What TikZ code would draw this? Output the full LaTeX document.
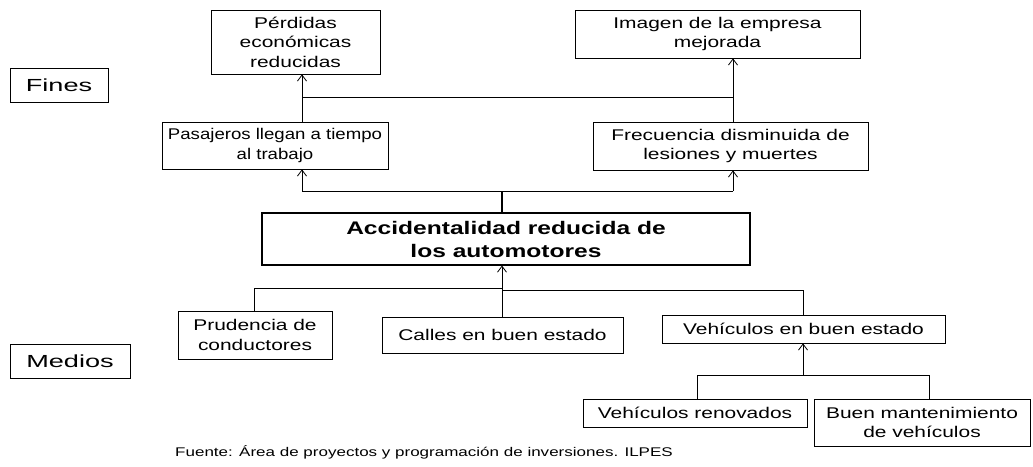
\documentclass[tikz,border=0pt]{standalone}
\usepackage{fontspec}
\setmainfont{Liberation Sans}[FakeStretch=1.35]
\newfontfamily\widefont{Liberation Sans}[FakeStretch=1.55]
\newfontfamily\narrowfont{Liberation Sans}[FakeStretch=1.2]
\usetikzlibrary{arrows.meta}
\begin{document}
\begin{tikzpicture}[x=1pt,y=-1pt,
  box/.style={draw, line width=0.8pt, align=center, inner sep=0pt, font=\fontsize{15.5}{19.5}\selectfont},
  lbl/.style={draw, line width=0.8pt, align=center, inner sep=0pt, font=\widefont\fontsize{17.5}{20}\selectfont},
  link/.style={line width=0.8pt},
  arr/.style={line width=0.8pt, -{Straight Barb[length=6pt,width=9pt]}}]
\useasboundingbox (0,0) rectangle (1033,466);
% Fines / Medios
\node[lbl, minimum width=98pt, minimum height=34pt] (fines) at (59,85) {Fines};
\node[lbl, minimum width=120pt, minimum height=34pt] (medios) at (70,361) {Medios};
% Top level
\node[box, minimum width=169pt, minimum height=64pt] (perd) at (295.5,42) {Pérdidas\\económicas\\reducidas};
\node[box, minimum width=285pt, minimum height=48pt] (imag) at (717.5,34) {Imagen de la empresa\\mejorada};
% Second level
\node[box, minimum width=226pt, minimum height=47pt, font=\narrowfont\fontsize{15.5}{19.5}\selectfont] (pasa) at (275,145.5) {Pasajeros llegan a tiempo\\al trabajo};
\node[box, minimum width=275pt, minimum height=48pt] (frec) at (730.5,146) {Frecuencia disminuida de\\lesiones y muertes};
% Central
\node[box, line width=1.1pt, minimum width=488pt, minimum height=52pt, font=\bfseries\fontsize{18.2}{23}\selectfont] (acc) at (506,239) {Accidentalidad reducida de\\los automotores};
% Means
\node[box, minimum width=154pt, minimum height=48pt] (prud) at (255,335) {Prudencia de\\conductores};
\node[box, minimum width=241pt, minimum height=36pt] (call) at (502.5,335) {Calles en buen estado};
\node[box, minimum width=283pt, minimum height=28pt] (vehb) at (803.5,329) {Vehículos en buen estado};
\node[box, minimum width=224pt, minimum height=28pt] (reno) at (695,413) {Vehículos renovados};
\node[box, minimum width=216pt, minimum height=47pt] (buen) at (922,422.5) {Buen mantenimiento\\de vehículos};
% Source
\node[anchor=west, inner sep=0pt, font=\fontsize{12.6}{15}\selectfont] (fuente) at (175,452) {Fuente: Área de proyectos y programación de inversiones. ILPES};
% Coordinates
\coordinate (j1) at (302,97);
\coordinate (j2) at (733,97);
\coordinate (k0) at (502,191);
\coordinate (k1) at (302,191);
\coordinate (k2) at (733,191);
\coordinate (m0) at (502,288);
\coordinate (m1) at (254,288);
\coordinate (m2) at (803,290);
\coordinate (n0) at (803,375);
\coordinate (n1) at (697,375);
\coordinate (n2) at (929,375);
% Top connectors
\draw[link] (pasa.north -| j1) -- (j1) -- (j2) -- (frec.north -| j2);
\draw[arr] (j1) -- (perd.south -| j1);
\draw[arr] (j2) -- (imag.south -| j2);
% Middle connectors
\draw[link, line width=1.6pt] (acc.north -| k0) -- (k0);
\draw[link] (k1) -- (k2);
\draw[arr] (k1) -- (pasa.south -| k1);
\draw[arr] (k2) -- (frec.south -| k2);
% Bottom connectors
\draw[link] (prud.north -| m1) -- (m1) -- (m0) -- (m0 |- m2) -- (m2) -- (vehb.north -| m2);
\draw[link] (call.north -| m0) -- (m0);
\draw[arr] (m0) -- (acc.south -| m0);
\draw[link] (reno.north -| n1) -- (n1) -- (n2) -- (buen.north -| n2);
\draw[arr] (n0) -- (vehb.south -| n0);
\end{tikzpicture}
\end{document}
